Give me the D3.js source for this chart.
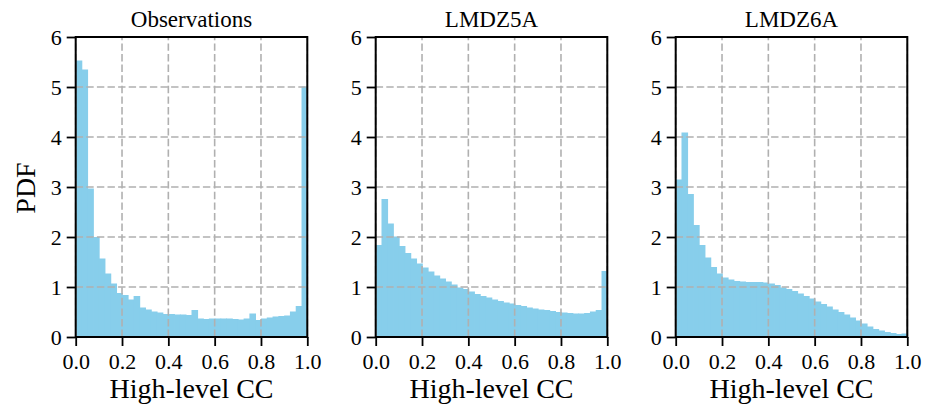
<!DOCTYPE html>
<html><head><meta charset="utf-8">
<script src="https://cdn.jsdelivr.net/npm/d3@7"></script>
<style>
body{margin:0;background:#fff;}
svg{display:block;}
</style></head>
<body>
<svg id="chart" width="934" height="408"></svg>
<script>
const titles = ["Observations", "LMDZ5A", "LMDZ6A"];
const observations = [5.53,5.35,2.97,2.00,1.57,1.27,1.07,0.88,0.84,0.75,0.82,0.59,0.55,0.51,0.49,0.46,0.46,0.45,0.45,0.44,0.54,0.37,0.36,0.37,0.37,0.37,0.37,0.36,0.35,0.37,0.47,0.34,0.37,0.39,0.41,0.42,0.43,0.51,0.62,5.01];
const lmdz5a = [1.84,2.76,2.27,2.01,1.82,1.68,1.57,1.47,1.39,1.31,1.23,1.17,1.11,1.05,0.99,0.96,0.91,0.86,0.82,0.79,0.75,0.72,0.69,0.67,0.64,0.62,0.59,0.57,0.55,0.54,0.52,0.50,0.49,0.48,0.47,0.47,0.48,0.51,0.54,1.32];
const lmdz6a = [3.15,4.09,2.86,2.24,1.84,1.59,1.40,1.27,1.19,1.15,1.12,1.11,1.10,1.10,1.10,1.09,1.07,1.04,0.99,0.96,0.92,0.87,0.82,0.77,0.71,0.66,0.61,0.55,0.50,0.45,0.39,0.33,0.27,0.21,0.16,0.13,0.10,0.08,0.06,0.07];
const xTicks = [0, 0.2, 0.4, 0.6, 0.8, 1.0];
const yTicks = [0, 1, 2, 3, 4, 5, 6];
const xLabel = "High-level CC";
const yLabel = "PDF";

(function () {
const FONT = "'Liberation Serif', 'Times New Roman', serif";
const series = [observations, lmdz5a, lmdz6a];
const svg = d3.select("#chart");
const panelLeft = [75.7, 375.7, 675.7];
const panelW = 231.6;
const plotTop = 37, plotBottom = 337;
const y = d3.scaleLinear().domain([0, 6]).range([plotBottom, plotTop]);

series.forEach((vals, p) => {
  const x0 = panelLeft[p];
  const x = d3.scaleLinear().domain([0, 1]).range([x0, x0 + panelW]);
  const n = vals.length;
  const w = 1 / n;
  const g = svg.append("g");

  g.selectAll("rect.bar").data(vals).join("rect")
    .attr("class", "bar")
    .attr("x", (d, i) => x(i * w))
    .attr("width", (d, i) => x((i + 1) * w) - x(i * w) + (i < n - 1 ? 0.8 : 0))
    .attr("y", d => y(d))
    .attr("height", d => y(0) - y(d))
    .attr("fill", "#87CEEB");

  const grid = g.append("g").attr("stroke", "#b0b0b0").attr("stroke-width", 1.6)
    .attr("stroke-dasharray", "7.4,3.2");
  grid.selectAll("line.gx").data(xTicks).join("line")
    .attr("class", "gx")
    .attr("x1", d => x(d)).attr("x2", d => x(d))
    .attr("y1", y(0)).attr("y2", y(6));
  grid.selectAll("line.gy").data(yTicks).join("line")
    .attr("class", "gy")
    .attr("x1", x(0)).attr("x2", x(1))
    .attr("y1", d => y(d)).attr("y2", d => y(d));

  const xa = g.append("g").attr("transform", `translate(0,${plotBottom})`)
    .call(d3.axisBottom(x).tickValues(xTicks).tickFormat(d3.format(".1f")).tickSize(9).tickSizeOuter(0));
  const ya = g.append("g").attr("transform", `translate(${x0},0)`)
    .call(d3.axisLeft(y).tickValues(yTicks).tickFormat(d3.format("d")).tickSize(9).tickPadding(5).tickSizeOuter(0));
  [xa, ya].forEach(a => {
    a.attr("font-family", FONT).attr("font-size", 22);
    a.select(".domain").remove();
    a.selectAll(".tick line").attr("stroke", "#000").attr("stroke-width", 1.8);
    a.selectAll("text").style("font-family", FONT).style("font-size", "22px").attr("fill", "#000");
  });
  xa.selectAll("text").attr("dy", null).attr("y", 32);
  ya.selectAll("text").attr("dy", "0.34em");

  g.append("rect").attr("x", x(0)).attr("y", y(6))
    .attr("width", x(1) - x(0)).attr("height", y(0) - y(6))
    .attr("fill", "none").attr("stroke", "#000").attr("stroke-width", 2);

  g.append("text").attr("x", (x(0) + x(1)) / 2).attr("y", 26.5)
    .attr("text-anchor", "middle").style("font-family", FONT).style("font-size", "23px").text(titles[p]);
  g.append("text").attr("x", (x(0) + x(1)) / 2).attr("y", 398)
    .attr("text-anchor", "middle").style("font-family", FONT).style("font-size", "28px").text(xLabel);
});

svg.append("text").attr("transform", "translate(35,188) rotate(-90)")
  .attr("text-anchor", "middle").style("font-family", FONT).style("font-size", "28px").text(yLabel);
})();
</script>
</body></html>
